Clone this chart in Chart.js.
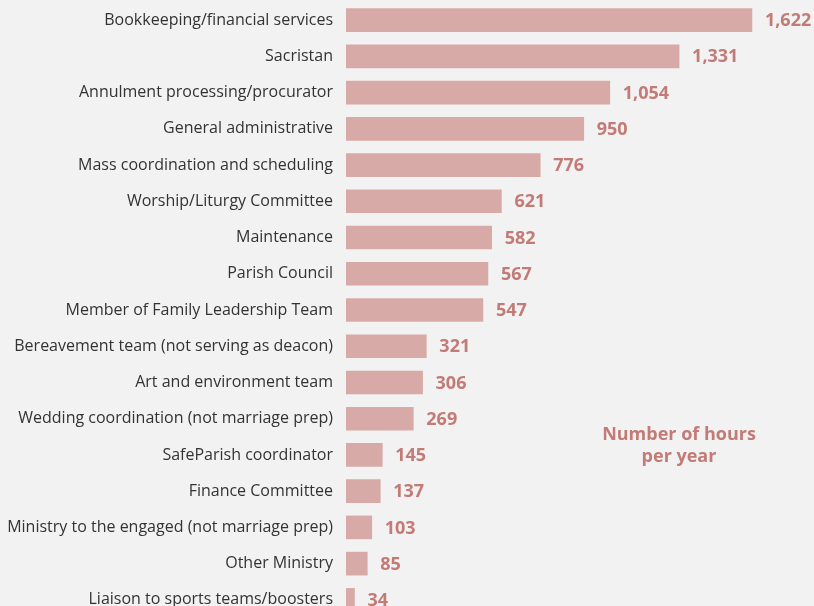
<!DOCTYPE html>
<html>
<head>
<meta charset="utf-8">
<script src="https://cdn.jsdelivr.net/npm/chart.js"></script>
<style>
  html, body { margin: 0; padding: 0; background: #f2f2f2; overflow: hidden; }
  #wrap { position: relative; width: 814px; height: 618px; }
</style>
</head>
<body>
<div id="wrap"><canvas id="chart"></canvas></div>
<script>
// Data
const categories = [
    'Bookkeeping/financial services',
    'Sacristan',
    'Annulment processing/procurator',
    'General administrative',
    'Mass coordination and scheduling',
    'Worship/Liturgy Committee',
    'Maintenance',
    'Parish Council',
    'Member of Family Leadership Team',
    'Bereavement team (not serving as deacon)',
    'Art and environment team',
    'Wedding coordination (not marriage prep)',
    'SafeParish coordinator',
    'Finance Committee',
    'Ministry to the engaged (not marriage prep)',
    'Other Ministry',
    'Liaison to sports teams/boosters'
];
const hours = [1622, 1331, 1054, 950, 776, 621, 582, 567, 547, 321, 306, 269, 145, 137, 103, 85, 34];
const noteLines = ['Number of hours', 'per year'];

const BAR_COLOR = '#d8aaa7';
const LABEL_COLOR = '#c27b77';

// Bold value labels at the end of each bar
const valueLabels = {
    id: 'valueLabels',
    afterDatasetsDraw(chart) {
        const ctx = chart.ctx;
        const meta = chart.getDatasetMeta(0);
        ctx.save();
        ctx.font = 'bold 18px "Open Sans"';
        ctx.fillStyle = LABEL_COLOR;
        ctx.textAlign = 'left';
        ctx.textBaseline = 'middle';
        meta.data.forEach((bar, i) => {
            ctx.fillText(hours[i].toLocaleString('en-US'), bar.x + 13, bar.y + 1);
        });
        ctx.restore();
    }
};

// Side note "Number of hours per year"
const sideNote = {
    id: 'sideNote',
    afterDraw(chart) {
        const ctx = chart.ctx;
        ctx.save();
        ctx.font = 'bold 18px "Open Sans"';
        ctx.fillStyle = LABEL_COLOR;
        ctx.textAlign = 'center';
        ctx.textBaseline = 'middle';
        noteLines.forEach((line, i) => {
            ctx.fillText(line, 679, 435 + i * 22);
        });
        ctx.restore();
    }
};

new Chart(document.getElementById('chart'), {
    type: 'bar',
    data: {
        labels: categories,
        datasets: [{
            data: hours,
            backgroundColor: BAR_COLOR,
            barThickness: 23
        }]
    },
    options: {
        indexAxis: 'y',
        responsive: true,
        maintainAspectRatio: false,
        animation: false,
        layout: { padding: { top: 2, right: 0, bottom: 0, left: 0 } },
        plugins: {
            legend: { display: false },
            tooltip: { enabled: false }
        },
        scales: {
            x: {
                min: 0,
                max: 1870,
                display: false
            },
            y: {
                grid: { display: false, drawTicks: false },
                border: { display: false },
                ticks: {
                    color: '#333333',
                    padding: 13,
                    font: { family: '"Open Sans"', size: 16 }
                },
                afterFit(scale) {
                    scale.width = 346;
                    scale.paddingTop = 0;
                    scale.paddingBottom = 0;
                }
            }
        }
    },
    plugins: [valueLabels, sideNote]
});
</script>
</body>
</html>
